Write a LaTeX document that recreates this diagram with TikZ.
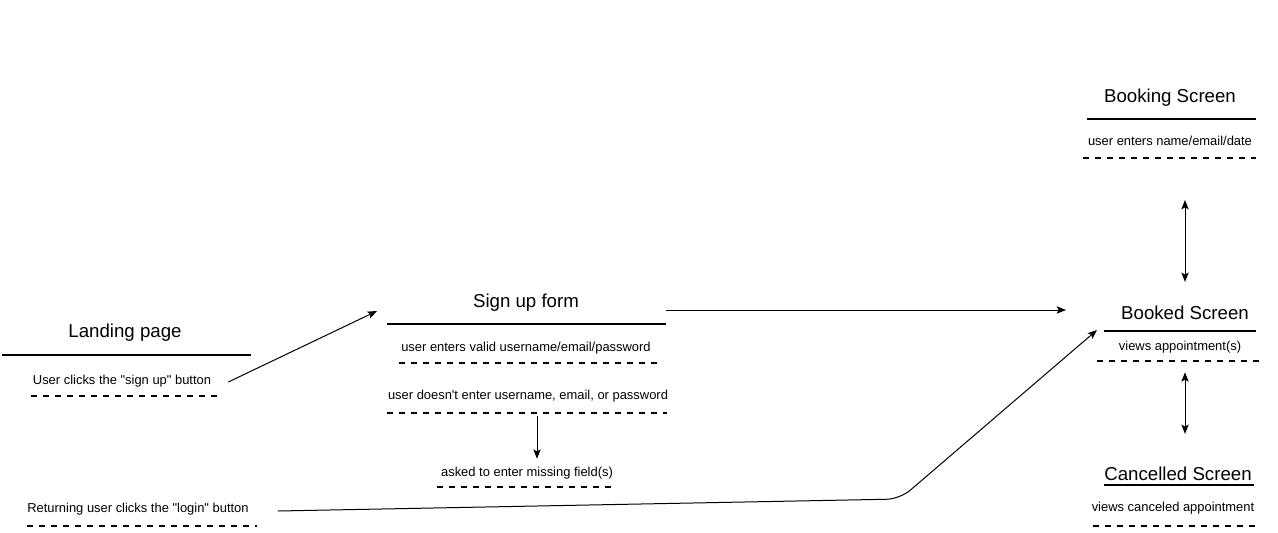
\documentclass[tikz,border=0pt]{standalone}
\usepackage{fontspec}
\setmainfont{Liberation Sans}
\usetikzlibrary{arrows.meta,positioning,calc}

\begin{document}
\begin{tikzpicture}[x=0.75pt, y=-0.75pt,
  title/.style={font=\fontsize{14}{16}\selectfont, inner sep=0pt},
  note/.style={font=\fontsize{9.7}{11}\selectfont, inner sep=0pt},
  bar/.style={line width=1.5pt},
  dashbar/.style={line width=1.5pt, dash pattern=on 4.5pt off 4.5pt},
  flow/.style={line width=0.75pt, -{Stealth[length=7pt,width=5.5pt,inset=1.5pt]}},
  both/.style={line width=0.75pt, {Stealth[length=7pt,width=5.5pt,inset=1.5pt]}-{Stealth[length=7pt,width=5.5pt,inset=1.5pt]}}]
\useasboundingbox (0,0) rectangle (1278,532);

% landing page
\node (landing) [title] at (125,333) {Landing page};
\draw[bar] (2,355) -- (251,355);
\node (clickSignup) [note] at (122,381) {User clicks the \textquotedbl sign up\textquotedbl{} button};
\draw[dashbar] (31,396) -- (218,396);

\node (clickLogin) [note] at (138,509) {Returning user clicks the \textquotedbl login\textquotedbl{} button};
\draw[dashbar] (27,526) -- (257,526);

% -------------------------------

\node (signup) [title] at (526,303) {Sign up form};
\draw[bar] (387,324) -- (666,324);
\node (validEntry) [note] at (526,348) {user enters valid username/email/password};
\draw[dashbar] (399,363) -- (657,363);
\node (missingEntry) [note] at (528,396) {user doesn\textquotesingle t enter username, email, or password};
\draw[dashbar] (387,413) -- (667,413);
\node (askMissing) [note] at (527,473) {asked to enter missing field(s)};
\draw[dashbar] (437,487) -- (612,487);

% -------------------------------

\node (booking) [title] at (1170,98) {Booking Screen};
\draw[bar] (1087,119) -- (1256,119);
\node (bookingNote) [note] at (1170,141) {user enters name/email/date};
\draw[dashbar] (1083,158) -- (1256,158);

\node (booked) [title] at (1185,313) {Booked Screen};
\draw[bar] (1104,331) -- (1256,331);
\node (bookedNote) [note] at (1180,347) {views appointment(s)};
\draw[dashbar] (1097,361) -- (1260,361);

\node (cancelled) [title] at (1178,474) {Cancelled Screen};
\draw[bar] (1104,485) -- (1254,485);
\node (cancelledNote) [note] at (1173,508) {views canceled appointment};
\draw[dashbar] (1093,526) -- (1256,526);

% -------------------------------

\coordinate (signupIn) at (377,311);
\coordinate (signupOut) at (666,310);
\coordinate (bookedIn) at (1066,310);
\coordinate (bookedLogin) at (1097,330);
\coordinate (turn) at (900,499);

\draw[flow] ($(clickSignup.east)+(17,1)$) -- (signupIn);
\draw[flow] (signupOut) -- (bookedIn);
\draw[flow] ($(missingEntry.south)+(9,14)$) -- ($(askMissing.north)+(10,-8)$);
\draw[flow, rounded corners=10pt] ($(clickLogin.east)+(29,2)$) -- (turn) -- (bookedLogin);
\draw[both] ($(bookingNote.south)+(15,54)$) -- ($(booked.north)+(0,-24)$);
\draw[both] ($(bookedNote.south)+(5,19)$) -- ($(cancelled.north)+(7,-33)$);
\end{tikzpicture}
\end{document}
